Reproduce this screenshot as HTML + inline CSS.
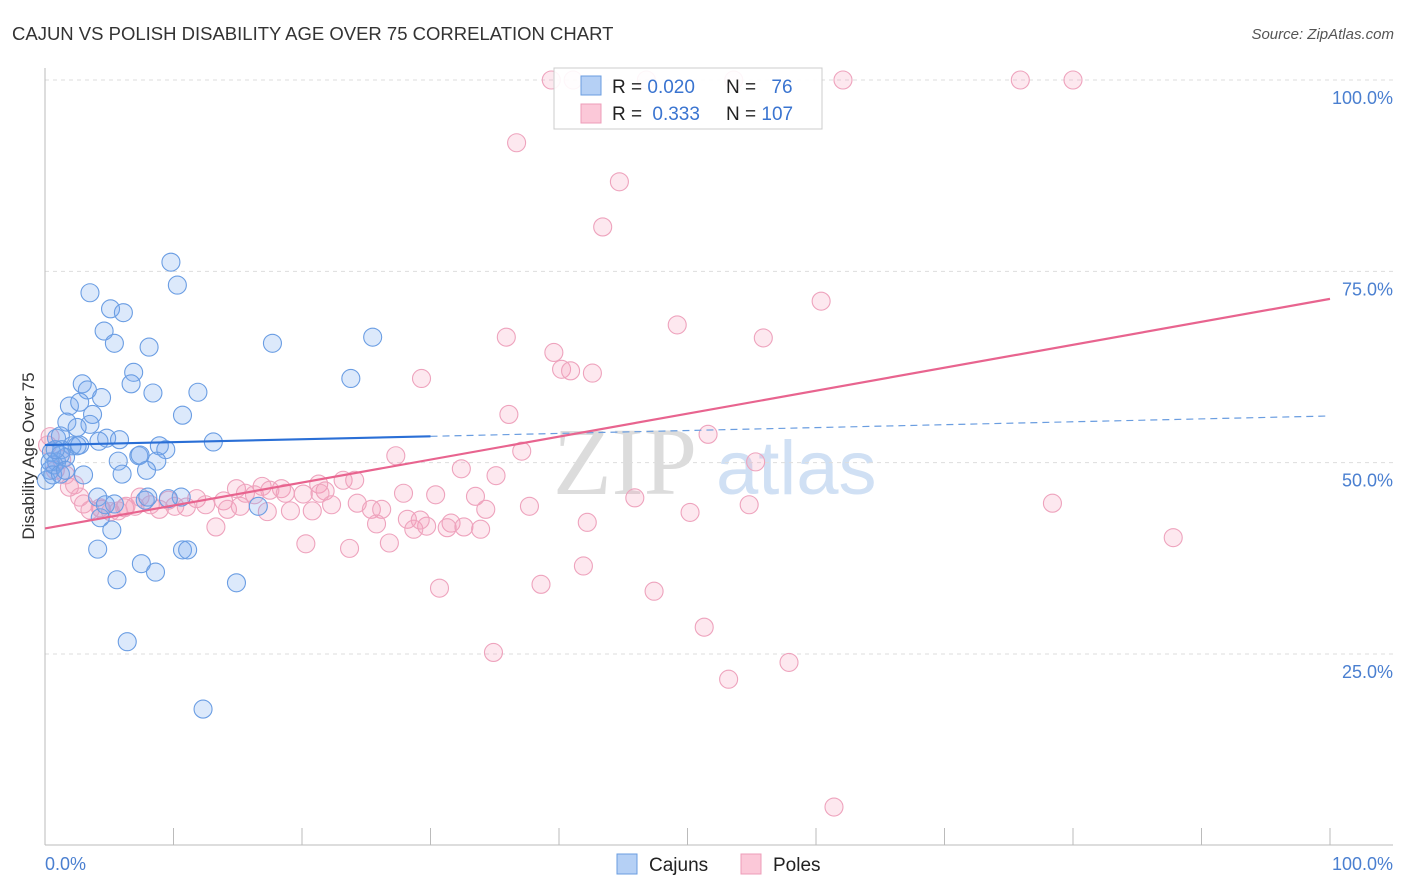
<!DOCTYPE html>
<html><head><meta charset="utf-8"><style>
body{margin:0;background:#fff;font-family:"Liberation Sans",sans-serif}
svg{display:block}
</style></head><body>
<svg id="chart" width="1406" height="892" xmlns="http://www.w3.org/2000/svg">
<text x="12" y="40" font-size="18.5" fill="#333">CAJUN VS POLISH DISABILITY AGE OVER 75 CORRELATION CHART</text>
<text x="1394" y="39" font-size="15" fill="#555" font-style="italic" text-anchor="end">Source: ZipAtlas.com</text>
<g>
<text x="553" y="494" font-size="96" font-family="Liberation Serif,serif" fill="#dcdcdc">ZIP</text>
<text x="716" y="494" font-size="76" fill="#d0e0f4">atlas</text>
</g>
<g id="grid"></g>
<g id="axes"></g>
<g id="pinkpts"></g>
<g id="bluepts"></g>
<g id="lines"></g>
<text transform="translate(34,456) rotate(-90)" font-size="17" fill="#333" text-anchor="middle">Disability Age Over 75</text>
<g>
<rect x="554" y="68" width="268" height="61" fill="#fff" fill-opacity="0.9" stroke="#ccc"/>
<rect x="581" y="76" width="20" height="19" fill="#b5d0f5" stroke="#6a9de0"/>
<rect x="581" y="104" width="20" height="19" fill="#fbc8d8" stroke="#ee9cb8"/>
<text x="612" y="93" font-size="19" fill="#222">R = <tspan fill="#3a74d0">0.020</tspan></text>
<text x="726" y="93" font-size="19" fill="#222">N = <tspan fill="#3a74d0" dx="10">76</tspan></text>
<text x="612" y="120" font-size="19" fill="#222">R = <tspan fill="#3a74d0" dx="5">0.333</tspan></text>
<text x="726" y="120" font-size="19" fill="#222">N = <tspan fill="#3a74d0">107</tspan></text>
</g>
<g>
<rect x="617" y="854" width="20" height="20" fill="#b5d0f5" stroke="#6a9de0"/>
<text x="649" y="871" font-size="19" fill="#222">Cajuns</text>
</g>
<g>
<rect x="741" y="854" width="20" height="20" fill="#fbc8d8" stroke="#ee9cb8"/>
<text x="773" y="871" font-size="19" fill="#222">Poles</text>
</g>
</svg>
<script>
const blueX=[9.8,10.3,3.5,5.1,6.1,4.6,5.4,8.1,17.7,25.5,6.9,6.7,23.8,2.9,3.3,4.4,1.9,2.7,8.4,11.9,3.7,3.5,10.7,1.7,2.5,0.9,1.2,4.8,4.2,13.1,2.1,8.9,9.4,2.5,0.5,1.3,1.6,7.3,7.4,5.7,8.7,7.9,6.0,3.0,0.1,0.4,0.9,4.1,5.4,10.6,16.6,5.2,4.1,7.5,10.7,11.1,5.6,8.6,14.9,6.4,12.3,4.3,1.2,0.7,0.4,7.8,9.6,4.7,0.6,1.2,1.6,2.7,5.8,0.8,8.0];
const blueY=[76.2,73.2,72.2,70.1,69.6,67.2,65.6,65.1,65.6,66.4,61.8,60.3,61.0,60.3,59.5,58.5,57.4,57.9,59.1,59.2,56.3,55.0,56.2,55.3,54.6,53.2,53.5,53.2,52.8,52.7,52.2,52.2,51.7,52.2,51.4,51.7,50.7,50.9,51.0,50.2,50.2,49.0,48.5,48.4,47.7,49.0,50.1,45.5,44.6,45.5,44.3,41.2,38.7,36.8,38.6,38.6,34.7,35.7,34.3,26.6,17.8,42.8,51.0,49.7,50.1,45.1,45.3,44.5,48.4,48.5,49.0,52.3,53.0,51.7,45.5];
const pinkX=[39.4,41.1,46.8,53.6,62.1,75.9,80.0,36.7,44.7,43.4,60.4,49.2,35.9,55.9,39.6,40.2,40.9,42.6,29.3,36.1,51.6,37.1,27.3,55.3,32.4,35.1,23.2,21.3,21.8,24.1,16.9,14.9,15.6,18.4,20.1,27.9,30.4,33.5,16.3,24.3,13.9,11.8,9.6,7.4,8.2,6.3,4.4,3.0,5.7,8.9,10.1,11.0,12.5,14.2,17.3,19.1,20.8,22.3,25.4,26.2,34.3,37.7,28.2,25.8,29.7,31.6,32.6,33.9,28.7,31.3,42.2,50.2,54.8,78.4,45.9,13.3,20.3,23.7,26.8,87.8,41.9,30.7,38.6,47.4,51.3,34.9,57.9,53.2,61.4,0.4,1.3,1.9,2.3,2.7,0.8,1.6,0.2,3.5,4.3,5.1,6.2,7.0,17.5,18.7,21.4,29.2,15.2];
const pinkY=[100,100,100,100,100,100,100,91.8,86.7,80.8,71.1,68.0,66.4,66.3,64.4,62.2,62.0,61.7,61.0,56.3,53.7,51.5,50.9,50.1,49.2,48.3,47.7,47.2,46.3,47.7,46.9,46.6,46.0,46.6,45.9,46.0,45.8,45.6,45.8,44.7,45.0,45.3,45.1,45.5,44.5,44.3,43.9,44.6,43.7,43.9,44.3,44.2,44.5,43.9,43.6,43.7,43.7,44.5,43.9,43.9,43.9,44.3,42.6,42.0,41.7,42.1,41.6,41.3,41.3,41.5,42.2,43.5,44.5,44.7,45.4,41.6,39.4,38.8,39.5,40.2,36.5,33.6,34.1,33.2,28.5,25.2,23.9,21.7,5.0,53.4,50.4,46.8,47.1,45.5,49.0,48.4,52.3,43.8,44.1,43.6,44.1,44.3,46.4,46.0,46.0,42.5,44.3];
const yTicks=[25,50,75,100];
const yTickLabels=["25.0%","50.0%","75.0%","100.0%"];
const blueTrend=[52.3,56.1];
const blueSolidEnd=30;
const pinkTrend=[41.4,71.4];
const NS="http://www.w3.org/2000/svg";
const X0=45,X1=1330,Y0=845.3,Y1=80;
const sx=v=>X0+(X1-X0)*v/100;
const sy=v=>Y0-(Y0-Y1)*v/100;
function mk(tag,attrs,parent){const e=document.createElementNS(NS,tag);for(const k in attrs)e.setAttribute(k,attrs[k]);parent.appendChild(e);return e;}
const grid=document.getElementById('grid');
yTicks.forEach((t,i)=>{
 const l=mk('line',{x1:X0,x2:1393,y1:sy(t),y2:sy(t),stroke:'#ddd','stroke-dasharray':'4,4'},grid);
 
 
 const tx=mk('text',{x:1393,y:sy(t)+24,'font-size':18,fill:'#4a7fd0','text-anchor':'end'},grid);
 tx.textContent=yTickLabels[i];
 
 
});
const ax=document.getElementById('axes');
const a1=mk('line',{x1:X0,x2:X0,y1:68,y2:845,stroke:'#bbb'},ax);


const a2=mk('line',{x1:X0,x2:1393,y1:845,y2:845,stroke:'#bbb'},ax);


for(let i=0;i<=10;i++){
 const t=mk('line',{x1:sx(i*10),x2:sx(i*10),y1:828,y2:845,stroke:'#bbb'},ax);
 
 
}
const xl0=mk('text',{x:45,y:870,'font-size':18,fill:'#4a7fd0'},ax);xl0.textContent='0.0%';


const xl1=mk('text',{x:1393,y:870,'font-size':18,fill:'#4a7fd0','text-anchor':'end'},ax);xl1.textContent='100.0%';


const pg=document.getElementById('pinkpts');
pinkX.forEach((v,i)=>{
 const c=mk('circle',{cx:sx(v),cy:sy(pinkY[i]),r:9,fill:'rgba(245,150,180,0.22)',stroke:'#eea3bd','stroke-width':1.1},pg);
 
 
});
const bg=document.getElementById('bluepts');
blueX.forEach((v,i)=>{
 const c=mk('circle',{cx:sx(v),cy:sy(blueY[i]),r:9,fill:'rgba(120,170,240,0.26)',stroke:'#6a9de3','stroke-width':1.1},bg);
 
 
});
const lg=document.getElementById('lines');
const bAt=x=>blueTrend[0]+(blueTrend[1]-blueTrend[0])*x/100;
const bl=mk('line',{x1:sx(0),y1:sy(bAt(0)),x2:sx(blueSolidEnd),y2:sy(bAt(blueSolidEnd)),stroke:'#2a6fd6','stroke-width':2.2},lg);


const bd=mk('line',{x1:sx(blueSolidEnd),y1:sy(bAt(blueSolidEnd)),x2:sx(100),y2:sy(bAt(100)),stroke:'#6a9de0','stroke-width':1.2,'stroke-dasharray':'7,5'},lg);


const pl=mk('line',{x1:sx(0),y1:sy(pinkTrend[0]),x2:sx(100),y2:sy(pinkTrend[1]),stroke:'#e8648f','stroke-width':2.2},lg);


</script>
</body></html>
